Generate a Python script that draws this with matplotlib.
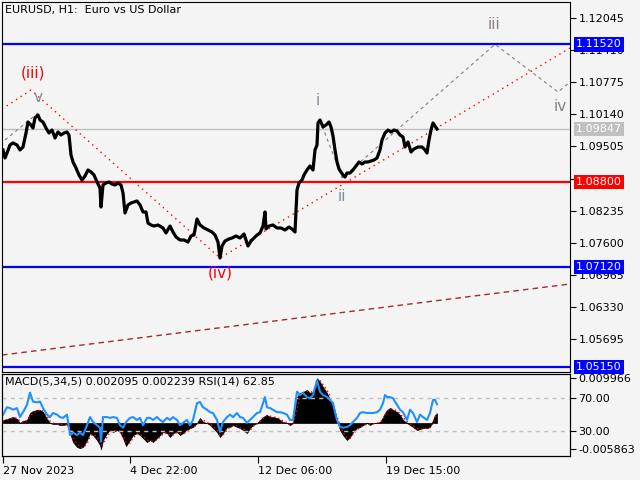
"""EURUSD H1 chart with wave count, support/resistance levels and MACD/RSI panel."""

import matplotlib

matplotlib.use("Agg")
import matplotlib.pyplot as plt

BG = "#f4f4f4"

# price path (bar index, close)
price_x = [3, 5, 7, 10, 13, 17, 20, 23, 26, 28, 31, 33, 35, 38, 40, 43, 46, 49, 52, 55,
           58, 61, 64, 67, 69, 71, 73, 76, 79, 82, 85, 88, 91, 94, 97, 100, 101, 103, 106, 109,
           112, 115, 118, 121, 123, 125, 128, 131, 134, 137, 140, 143, 146, 148, 151, 154, 158, 163, 166, 170,
           173, 176, 180, 184, 188, 191, 194, 197, 200, 204, 208, 212, 215, 218, 220, 222, 225, 229, 232, 236,
           240, 244, 248, 251, 254, 257, 260, 263, 265, 266, 269, 273, 277, 281, 285, 289, 292, 295, 297, 299,
           302, 304, 307, 310, 313, 315, 317, 318, 320, 323, 326, 329, 331, 333, 335, 337, 339, 341, 343, 345,
           347, 350, 353, 356, 359, 362, 365, 368, 371, 374, 377, 380, 382, 385, 388, 391, 394, 397, 400, 403,
           405, 408, 411, 414, 418, 422, 425, 427, 429, 431, 433, 435, 437]
price_close = [1.09434, 1.09276, 1.09374, 1.09532, 1.09572, 1.09532, 1.09434, 1.09493, 1.09769, 1.09986,
               1.09927, 1.09868, 1.10068, 1.10124, 1.10026, 1.09986, 1.09868, 1.09769, 1.09828, 1.09670,
               1.09789, 1.09730, 1.09769, 1.09789, 1.09730, 1.09335, 1.09197, 1.09078, 1.08940, 1.08841,
               1.08920, 1.09039, 1.08999, 1.08940, 1.08802, 1.08683, 1.08308, 1.08743, 1.08782, 1.08802,
               1.08762, 1.08743, 1.08782, 1.08743, 1.08585, 1.08190, 1.08348, 1.08387, 1.08407, 1.08427,
               1.08348, 1.08210, 1.08210, 1.07992, 1.07953, 1.07933, 1.07953, 1.07894, 1.07795, 1.07933,
               1.07815, 1.07716, 1.07657, 1.07657, 1.07617, 1.07736, 1.07755, 1.08071, 1.07953, 1.07894,
               1.07854, 1.07815, 1.07755, 1.07617, 1.07301, 1.07538, 1.07637, 1.07677, 1.07696, 1.07736,
               1.07696, 1.07775, 1.07538, 1.07637, 1.07696, 1.07755, 1.07795, 1.07933, 1.08210, 1.07874,
               1.07933, 1.07953, 1.07894, 1.07894, 1.07854, 1.07913, 1.07874, 1.07815, 1.08644, 1.08782,
               1.08841, 1.08940, 1.09039, 1.09118, 1.09039, 1.09434, 1.09532, 1.09967, 1.10026, 1.09888,
               1.09927, 1.09986, 1.09888, 1.09710, 1.09434, 1.09197, 1.09059, 1.08999, 1.08940, 1.08900,
               1.08979, 1.08979, 1.09039, 1.09118, 1.09197, 1.09157, 1.09197, 1.09197, 1.09217, 1.09236,
               1.09276, 1.09434, 1.09631, 1.09769, 1.09828, 1.09789, 1.09828, 1.09808, 1.09730, 1.09690,
               1.09493, 1.09592, 1.09394, 1.09454, 1.09493, 1.09493, 1.09434, 1.09374, 1.09631, 1.09828,
               1.09967, 1.09907, 1.09847]

last_price = 1.09847
blue_levels = [1.11520, 1.07120, 1.05150]
red_levels = [1.08800]

# wave lines
red_wave_x = [2, 31, 220, 570]
red_wave_y = [1.10243, 1.10618, 1.07301, 1.11447]
gray_wave1_x = [5, 38]
gray_wave1_y = [1.09631, 1.10164]
gray_wave2_x = [320, 342, 495, 558, 570]
gray_wave2_y = [1.10026, 1.08881, 1.11520, 1.10579, 1.10776]
trend_x = [2, 570]
trend_y = [1.05386, 1.06788]

wave_labels = ["(iii)", "v", "(iv)", "i", "ii", "iii", "iv"]
wave_label_x = [33, 38, 220, 318, 342, 494, 560]
wave_label_y = [1.10954, 1.10460, 1.07005, 1.10401, 1.08506, 1.11901, 1.10283]
wave_label_colors = ["#ff0000", "#7f8c9a", "#ff0000", "#7f8c9a", "#7f8c9a", "#8c8080", "#8c8080"]

price_ticks = [1.12045, 1.11410, 1.10775, 1.10140, 1.09505, 1.08870,
               1.08235, 1.07600, 1.06965, 1.06330, 1.05695]
time_tick_x = [3, 130, 258, 386]
time_tick_labels = ["27 Nov 2023", "4 Dec 22:00", "12 Dec 06:00", "19 Dec 15:00"]

# indicator panel
sub_x = [3, 7, 10, 13, 17, 20, 23, 27, 30, 33, 37, 40, 43, 47, 50, 53, 57, 60, 63, 67,
         70, 73, 77, 80, 83, 87, 90, 93, 97, 100, 101, 103, 107, 110, 113, 117, 120, 123, 126, 130,
         133, 137, 140, 143, 147, 150, 153, 157, 160, 163, 167, 170, 173, 177, 180, 183, 187, 190, 193, 197,
         200, 203, 207, 210, 213, 217, 220, 223, 227, 230, 233, 237, 240, 243, 247, 250, 253, 257, 260, 263,
         265, 267, 270, 273, 277, 280, 283, 287, 290, 293, 297, 300, 303, 307, 310, 313, 317, 320, 323, 327,
         330, 333, 335, 337, 340, 343, 347, 350, 353, 357, 360, 363, 367, 370, 373, 377, 380, 383, 385, 387,
         390, 393, 397, 400, 403, 407, 410, 413, 417, 420, 423, 427, 430, 433, 435, 437]
macd = [0.00067, 0.00089, 0.00112, 0.00134, 0.00089, 0.0, 0.00045, 0.00067, 0.00223, 0.00268,
        0.00290, 0.00290, 0.00245, 0.00089, 0.0, -0.00022, -0.00022, -0.00045, -0.00045, -0.00022,
        -0.00223, -0.00424, -0.00535, -0.00560, -0.00535, -0.00379, -0.00223, -0.00268, -0.00379, -0.00491,
        -0.005863, -0.00379, -0.00223, -0.00156, -0.00201, -0.00156, -0.00201, -0.00335, -0.00513, -0.00379,
        -0.00268, -0.00223, -0.00268, -0.00335, -0.00424, -0.00379, -0.00424, -0.00335, -0.00268, -0.00201,
        -0.00223, -0.00312, -0.00223, -0.00201, -0.00268, -0.00223, -0.00156, -0.00112, -0.00089, 0.0,
        0.00112, 0.00022, 0.0, -0.00045, -0.00112, -0.00201, -0.00312, -0.00223, -0.00089, -0.00089,
        -0.00045, -0.00089, -0.00112, -0.00156, -0.00223, -0.00112, -0.00045, 0.0, 0.00067, 0.00134,
        0.00156, 0.00178, 0.00134, 0.00134, 0.00112, 0.00067, 0.00022, 0.0, -0.00045, 0.0,
        0.00580, 0.00669, 0.00691, 0.00736, 0.00669, 0.00691, 0.009966, 0.00914, 0.00803, 0.00669,
        0.00513, 0.00357, 0.00223, 0.00067, -0.00156, -0.00268, -0.00379, -0.00312, -0.00201, -0.00112,
        -0.00089, -0.00045, 0.0, -0.00045, 0.0, 0.0, 0.00022, 0.00134, 0.00223, 0.00290,
        0.00335, 0.00290, 0.00245, 0.00178, 0.00067, 0.0, -0.00045, -0.00089, -0.00156, -0.00134,
        -0.00112, -0.00112, -0.00089, 0.00067, 0.00178, 0.002095]
signal = [0.00045, 0.00067, 0.00089, 0.00112, 0.00112, 0.00045, 0.00022, 0.00045, 0.00134, 0.00223,
          0.00268, 0.00290, 0.00268, 0.00156, 0.00045, 0.0, -0.00022, -0.00022, -0.00045, -0.00045,
          -0.00112, -0.00312, -0.00468, -0.00535, -0.00546, -0.00468, -0.00312, -0.00245, -0.00312, -0.00424,
          -0.00491, -0.00468, -0.00312, -0.00201, -0.00178, -0.00178, -0.00178, -0.00268, -0.00424, -0.00446,
          -0.00335, -0.00245, -0.00245, -0.00290, -0.00379, -0.00401, -0.00401, -0.00379, -0.00312, -0.00245,
          -0.00212, -0.00268, -0.00268, -0.00212, -0.00234, -0.00245, -0.00190, -0.00134, -0.00100, -0.00045,
          0.00056, 0.00067, 0.00011, -0.00022, -0.00078, -0.00156, -0.00257, -0.00268, -0.00156, -0.00089,
          -0.00067, -0.00067, -0.00100, -0.00134, -0.00190, -0.00167, -0.00078, -0.00022, 0.00034, 0.00100,
          0.00145, 0.00167, 0.00156, 0.00134, 0.00123, 0.00089, 0.00045, 0.00011, -0.00022, -0.00022,
          0.00290, 0.00624, 0.00680, 0.00713, 0.00702, 0.00680, 0.00843, 0.00955, 0.00858, 0.00736,
          0.00591, 0.00435, 0.00290, 0.00145, -0.00045, -0.00212, -0.00323, -0.00346, -0.00257, -0.00156,
          -0.00100, -0.00067, -0.00022, -0.00022, -0.00022, 0.0, 0.00011, 0.00078, 0.00178, 0.00257,
          0.00312, 0.00312, 0.00268, 0.00212, 0.00123, 0.00034, -0.00022, -0.00067, -0.00123, -0.00145,
          -0.00123, -0.00112, -0.00100, -0.00011, 0.00123, 0.002239]
rsi = [50, 59, 58, 56, 58, 47, 53, 62, 77, 66, 65, 66, 58, 50, 47, 52, 50, 47, 46, 50,
       25, 28, 25, 28, 25, 37, 47, 41, 37, 34, 17, 47, 47, 46, 47, 46, 37, 34, 41, 46,
       47, 43.5, 46, 37, 46, 46, 43.5, 47, 43.5, 41, 46, 43.5, 47, 43.5, 37, 40, 43.5, 37, 43.5, 64,
       65.5, 59, 56, 53, 52, 43.5, 29, 41, 47, 50, 47, 52, 47, 46, 40, 43.5, 47, 52, 53, 64,
       71.5, 59, 58, 56, 53, 53, 52, 50, 43.5, 43.5, 78, 74, 76.5, 71.5, 70, 74, 92, 78, 74, 71.5,
       68, 64, 53, 43.5, 35, 34, 35, 37, 41, 46, 52, 53, 52, 52, 52, 53, 56, 64, 74, 71.5,
       71.5, 70, 62, 56, 53, 43.5, 56, 52, 41, 50, 47, 43.5, 52, 68, 68, 62.85]
macd_ticks = [0.009966, -0.005863]
rsi_levels = [70, 30]


def price_label(ax, value, color):
    ax.annotate(f"{value:.5f}", xy=(1, value), xycoords=("axes fraction", "data"),
                xytext=(6, 0), textcoords="offset pixels", ha="left", va="center",
                color="white", fontsize=8, annotation_clip=False,
                bbox=dict(boxstyle="square,pad=0.2", fc=color, ec="none"))


def draw_main(fig):
    ax = fig.add_axes([2 / 640, 1 - 372 / 480, 568 / 640, 370 / 480])
    ax.set_facecolor(BG)
    ax.set_xlim(2, 570)
    ax.set_ylim(1.05051, 1.12355)

    ax.axhline(last_price, color="#c0c0c0", lw=1, zorder=1)
    for lvl in blue_levels:
        ax.axhline(lvl, color="#0000ff", lw=1.6, zorder=2)
    for lvl in red_levels:
        ax.axhline(lvl, color="#ff0000", lw=1.6, zorder=2)

    ax.plot(trend_x, trend_y, color="#a52a2a", lw=1, ls=(0, (4, 3)))
    ax.plot(red_wave_x, red_wave_y, color="#ff0000", lw=1, ls=(0, (1, 3)))
    ax.plot(gray_wave1_x, gray_wave1_y, color="#808080", lw=0.8, ls=(0, (3, 3)))
    ax.plot(gray_wave2_x, gray_wave2_y, color="#808080", lw=0.8, ls=(0, (3, 3)))

    ax.plot(price_x, price_close, color="black", lw=2.3, zorder=3)

    for text, x, y, c in zip(wave_labels, wave_label_x, wave_label_y, wave_label_colors):
        ax.text(x, y, text, color=c, fontsize=11, ha="center", va="center", zorder=4)

    ax.set_xticks([])
    ax.yaxis.tick_right()
    ax.set_yticks(price_ticks)
    ax.set_yticklabels([f"{t:.5f}" for t in price_ticks])
    ax.tick_params(axis="y", length=4, pad=2, labelsize=8, direction="out")

    for lvl in blue_levels:
        price_label(ax, lvl, "#0000ff")
    for lvl in red_levels:
        price_label(ax, lvl, "#ff0000")
    price_label(ax, last_price, "#c0c0c0")
    return ax


def draw_indicators(fig):
    ax = fig.add_axes([2 / 640, 1 - 456 / 480, 568 / 640, 82 / 480])
    ax.set_facecolor(BG)
    ax.set_xlim(2, 570)
    ax.set_ylim(-0.007359, 0.010927)
    ax.fill_between(sub_x, 0, macd, color="black", lw=0.5)
    ax.plot(sub_x, signal, color="#ff0000", lw=1, ls=(0, (1, 2)))

    ax.set_xticks(time_tick_x)
    ax.set_xticklabels(time_tick_labels, ha="left")
    ax.tick_params(axis="x", length=5, pad=2, labelsize=8)

    ax_rsi = ax.twinx()
    ax_rsi.set_ylim(-0.6, 99.7)
    for lvl in rsi_levels:
        ax_rsi.axhline(lvl, color="#c0c0c0", lw=1, ls=(0, (3, 3)), zorder=1)
    ax_rsi.plot(sub_x, rsi, color="#1e90ff", lw=1.5)
    ax_rsi.set_yticks(rsi_levels)
    ax_rsi.set_yticklabels([f"{v:.2f}" for v in rsi_levels])
    ax_rsi.tick_params(axis="y", length=4, pad=2, labelsize=8)

    # twinx moves the original ticks to the left, put them back on the right
    ax.yaxis.tick_right()
    ax.set_yticks(macd_ticks)
    ax.set_yticklabels([f"{t:.6f}" for t in macd_ticks])
    ax.tick_params(axis="y", length=4, pad=2, labelsize=8)
    return ax


def main():
    fig = plt.figure(figsize=(6.4, 4.8), dpi=100, facecolor=BG)
    draw_main(fig)
    draw_indicators(fig)
    fig.text(5 / 640, 1 - 5 / 480, "EURUSD, H1:  Euro vs US Dollar", fontsize=8, va="top")
    fig.text(5 / 640, 1 - 377 / 480, "MACD(5,34,5) 0.002095 0.002239 RSI(14) 62.85", fontsize=8, va="top")
    fig.savefig("out.png", dpi=100, facecolor=BG)


if __name__ == "__main__":
    main()
